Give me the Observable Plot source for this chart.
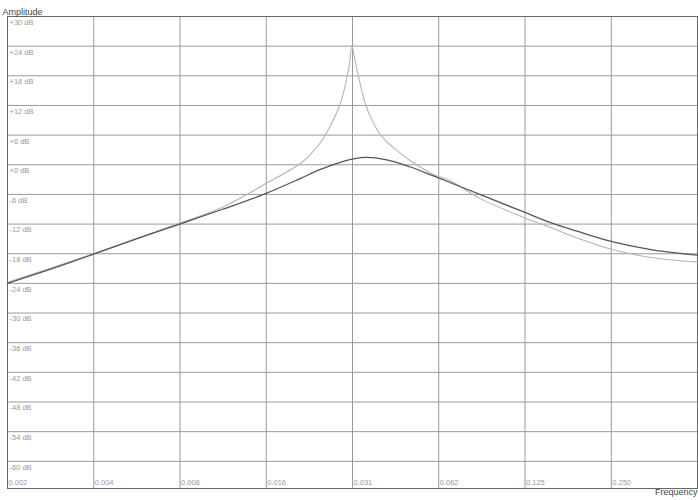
<!DOCTYPE html>
<html>
<head>
<meta charset="utf-8">
<script src="https://cdn.jsdelivr.net/npm/d3@7"></script>
<script src="https://cdn.jsdelivr.net/npm/@observablehq/plot@0.6"></script>
<style>
  html, body { margin: 0; padding: 0; background: #fff; }
  #chart svg { display: block; }
</style>
</head>
<body>
<div id="chart"></div>
<script>
// Frequency ticks (fraction of sample rate) and their labels
const freqTicks = [0.001953125, 0.00390625, 0.0078125, 0.015625, 0.03125, 0.0625, 0.125, 0.25];
const freqTickLabels = ["0.002", "0.004", "0.008", "0.016", "0.031", "0.062", "0.125", "0.250"];

// Amplitude ticks (dB) and labels
const dbTicks = [30, 24, 18, 12, 6, 0, -6, -12, -18, -24, -30, -36, -42, -48, -54, -60];
const dbTickLabels = ["+30 dB", "+24 dB", "+18 dB", "+12 dB", "+6 dB", "+0 dB", "-6 dB", "-12 dB",
  "-18 dB", "-24 dB", "-30 dB", "-36 dB", "-42 dB", "-48 dB", "-54 dB", "-60 dB"];

// Broad response (dark curve)
const darkFreq = [0.00195, 0.0028, 0.0039, 0.0055, 0.0078, 0.011, 0.0156, 0.0205, 0.024, 0.0283,
  0.0315, 0.035, 0.0412, 0.0495, 0.0596, 0.0869, 0.1256, 0.152, 0.194, 0.25, 0.34, 0.5];
const darkDb = [-24.0, -21.0, -18.1, -15.0, -12.0, -9.0, -5.8, -2.8, -1.0, 0.5,
  1.2, 1.5, 1.0, -0.4, -2.2, -6.0, -9.7, -11.6, -13.6, -15.5, -17.1, -18.3];

// Resonant response (light curve)
const lightFreq = [0.00195, 0.0039, 0.0078, 0.011, 0.0156, 0.0205, 0.0222, 0.0241, 0.0261, 0.0283,
  0.0296, 0.0305, 0.0311, 0.0319, 0.0332, 0.0346, 0.0359, 0.038, 0.0399, 0.0446, 0.0495, 0.0596,
  0.0683, 0.0869, 0.1256, 0.152, 0.194, 0.25, 0.34, 0.5];
const lightDb = [-23.8, -18.0, -11.8, -8.6, -3.8, 0.2, 2.0, 4.4, 7.8, 12.3,
  16.5, 20.5, 24.0, 21.0, 16.5, 12.5, 10.0, 7.2, 5.5, 2.9, 0.9, -1.9,
  -3.2, -6.8, -10.8, -12.6, -15.0, -17.1, -18.7, -19.7];

const dark = darkFreq.map((f, i) => ({f, db: darkDb[i]}));
const light = lightFreq.map((f, i) => ({f, db: lightDb[i]}));

const font = "'Liberation Sans', Arial, sans-serif";

const chart = Plot.plot({
  width: 698,
  height: 500,
  marginTop: 16,
  marginBottom: 12,
  marginLeft: 7,
  marginRight: 1,
  style: {fontFamily: font, background: "#fff"},
  x: {type: "log", base: 2, domain: [1 / 512, 0.5], axis: null},
  y: {domain: [-65.5, 30], axis: null},
  marks: [
    Plot.ruleY(dbTicks, {stroke: "#9a9a9a", strokeWidth: 1}),
    Plot.ruleX(freqTicks, {stroke: "#9a9a9a", strokeWidth: 1}),
    Plot.frame({stroke: "#666", strokeWidth: 1}),
    Plot.text(dbTicks, {y: d => d, text: (d, i) => dbTickLabels[i], frameAnchor: "left",
      textAnchor: "start", dx: 2, dy: 6, fontSize: 7.5, fill: "#999"}),
    Plot.text(freqTicks, {x: d => d, text: (d, i) => freqTickLabels[i], frameAnchor: "bottom",
      textAnchor: "start", dx: 1, dy: -4, fontSize: 7.5, fill: "#999"}),
    Plot.line(light, {x: "f", y: "db", stroke: "#b4b4b4", strokeWidth: 1.1, curve: "catmull-rom"}),
    Plot.line(dark, {x: "f", y: "db", stroke: "#555", strokeWidth: 1.3, curve: "monotone-x"}),
    Plot.text(["Amplitude"], {frameAnchor: "top-left", textAnchor: "start", dx: -5, dy: -8,
      fontSize: 9, fill: "#444"}),
    Plot.text(["Frequency"], {frameAnchor: "bottom-right", textAnchor: "end", dx: 0, dy: 6,
      fontSize: 9, fill: "#444"})
  ]
});
document.getElementById("chart").appendChild(chart);
</script>
</body>
</html>
